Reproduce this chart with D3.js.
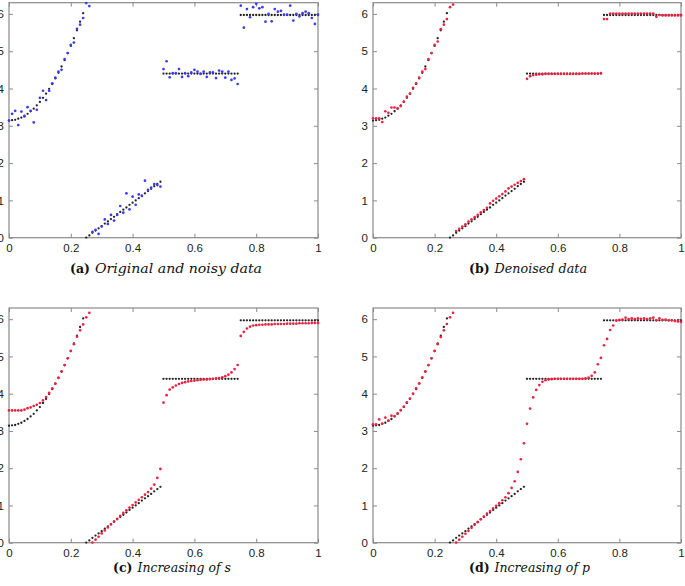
<!DOCTYPE html>
<html><head><meta charset="utf-8">
<script src="https://cdn.jsdelivr.net/npm/d3@7"></script>
<style>body{margin:0;background:#fff}svg{display:block}</style>
</head><body>
<svg id="c" width="685" height="586"></svg>
<script>
// sample positions
const xGrid = [0,0.01,0.02,0.03,0.04,0.05,0.06,0.07,0.08,0.09,0.1,0.11,0.12,0.13,0.14,0.15,0.16,0.17,0.18,0.19,0.2,0.21,0.22,0.23,0.24,0.25,0.26,0.27,0.28,0.29,0.3,0.31,0.32,0.33,0.34,0.35,0.36,0.37,0.38,0.39,0.4,0.41,0.42,0.43,0.44,0.45,0.46,0.47,0.48,0.49,0.5,0.51,0.52,0.53,0.54,0.55,0.56,0.57,0.58,0.59,0.6,0.61,0.62,0.63,0.64,0.65,0.66,0.67,0.68,0.69,0.7,0.71,0.72,0.73,0.74,0.75,0.76,0.77,0.78,0.79,0.8,0.81,0.82,0.83,0.84,0.85,0.86,0.87,0.88,0.89,0.9,0.91,0.92,0.93,0.94,0.95,0.96,0.97,0.98,0.99,1];
// original (black) data
const original = [3.14,3.15,3.16,3.19,3.22,3.27,3.32,3.39,3.46,3.55,3.64,3.75,3.86,3.99,4.12,4.27,4.42,4.59,4.76,4.95,5.14,5.35,5.56,5.79,6.02,
0,0.06,0.13,0.19,0.25,0.31,0.38,0.44,0.50,0.56,0.63,0.69,0.75,0.81,0.88,0.94,1.00,1.06,1.13,1.19,1.25,1.31,1.38,1.44,1.50,
4.40,4.40,4.40,4.40,4.40,4.40,4.40,4.40,4.40,4.40,4.40,4.40,4.40,4.40,4.40,4.40,4.40,4.40,4.40,4.40,4.40,4.40,4.40,4.40,4.40,
5.97,5.97,5.97,5.97,5.97,5.97,5.97,5.97,5.97,5.97,5.97,5.97,5.97,5.97,5.97,5.97,5.97,5.97,5.97,5.97,5.97,5.97,5.97,5.97,5.97,5.97];
// noisy data (blue)
const noisy = [3.14,3.32,3.40,3.02,3.38,3.25,3.50,3.40,3.09,3.43,3.75,3.94,3.69,3.94,4.14,4.29,4.45,4.50,4.79,4.95,5.17,5.23,5.60,5.71,5.89,
6.29,6.21,0.16,0.21,0.10,0.30,0.49,0.37,0.61,0.46,0.61,0.85,0.67,1.19,0.76,1.10,0.88,1.16,1.12,1.53,1.28,1.34,1.44,1.41,1.37,
4.52,4.73,4.30,4.41,4.41,4.52,4.31,4.41,4.33,4.43,4.50,4.45,4.39,4.45,4.31,4.43,4.43,4.28,4.48,4.45,4.29,4.45,4.23,4.27,4.12,
6.22,5.63,6.13,5.91,6.18,6.27,6.15,6.18,5.79,6.00,5.80,6.13,6.06,6.08,5.98,5.98,6.22,5.82,6.00,5.93,6.02,6.06,6.02,5.89,5.73,5.98];
// denoised (red, panel b)
const denoised = [3.20,3.20,3.20,3.10,3.39,3.35,3.49,3.49,3.47,3.53,3.65,3.78,3.86,4.02,4.14,4.29,4.45,4.52,4.79,4.95,5.17,5.26,5.59,5.71,5.86,
6.18,6.25,0.18,0.24,0.30,0.36,0.43,0.49,0.55,0.61,0.68,0.74,0.80,0.92,0.99,1.05,1.11,1.17,1.24,1.32,1.37,1.42,1.47,1.52,1.57,
4.26,4.33,4.36,4.37,4.38,4.38,4.39,4.39,4.39,4.39,4.39,4.39,4.39,4.39,4.39,4.39,4.39,4.39,4.40,4.40,4.40,4.40,4.40,4.40,4.41,
5.86,5.86,6.01,6.01,6.01,6.01,6.01,6.01,6.01,6.01,6.01,6.01,6.01,6.01,6.01,6.01,6.01,5.92,5.97,5.96,5.96,5.96,5.96,5.96,5.96,5.96];
// increasing s (red, panel c)
const increaseS = [3.55,3.55,3.55,3.55,3.55,3.57,3.61,3.63,3.67,3.70,3.75,3.82,3.91,4.02,4.14,4.27,4.43,4.60,4.77,4.95,5.15,5.33,5.53,5.70,5.86,
6.05,6.17,0.00,0.08,0.16,0.25,0.33,0.41,0.49,0.57,0.64,0.72,0.80,0.87,0.94,1.01,1.08,1.15,1.22,1.29,1.36,1.45,1.56,1.74,1.98,
3.76,3.96,4.11,4.17,4.22,4.26,4.29,4.31,4.33,4.34,4.35,4.36,4.37,4.38,4.38,4.39,4.40,4.41,4.42,4.44,4.47,4.51,4.57,4.66,4.77,
5.55,5.66,5.75,5.80,5.83,5.84,5.85,5.85,5.86,5.86,5.86,5.87,5.87,5.87,5.87,5.88,5.88,5.88,5.88,5.89,5.89,5.89,5.89,5.90,5.90,5.90];
// increasing p (red, panel d)
const increaseP = [3.18,3.18,3.31,3.20,3.36,3.28,3.41,3.40,3.47,3.56,3.65,3.77,3.87,4.00,4.14,4.28,4.44,4.60,4.77,4.95,5.15,5.33,5.52,5.70,5.87,
6.05,6.17,0.00,0.08,0.16,0.24,0.32,0.40,0.48,0.55,0.63,0.70,0.78,0.85,0.92,0.99,1.06,1.14,1.22,1.33,1.47,1.65,1.90,2.24,2.67,
3.19,3.60,3.90,4.10,4.23,4.32,4.36,4.38,4.39,4.40,4.40,4.40,4.40,4.40,4.40,4.40,4.40,4.40,4.40,4.41,4.43,4.48,4.57,4.79,4.96,
5.30,5.47,5.71,5.83,5.96,5.98,5.99,6.04,6.00,6.02,6.00,6.02,6.01,6.02,6.00,6.02,6.04,5.97,6.02,5.98,5.99,5.97,5.97,5.95,5.94,5.93];

const xTicks = [0,0.2,0.4,0.6,0.8,1];
const xTickLabels = ["0","0.2","0.4","0.6","0.8","1"];
const yTicks = [0,1,2,3,4,5,6];
const captionTags = ["(a)","(b)","(c)","(d)"];
const captionTexts = ["Original and noisy data","Denoised data","Increasing of s","Increasing of p"];

const panels = [
  {left:9, right:318, top:2.7, bottom:237.7, series:noisy, color:"#3b3bf5", capX:70, capY:273, capW:192},
  {left:373, right:681, top:2.7, bottom:237.7, series:denoised, color:"#ec2340", capX:469, capY:273, capW:118},
  {left:9, right:318, top:308, bottom:542.7, series:increaseS, color:"#ec2340", capX:113, capY:572, capW:118},
  {left:373, right:681, top:308, bottom:542.7, series:increaseP, color:"#ec2340", capX:469, capY:572, capW:121}
];

const svg = d3.select("#c");
const frameColor = "#8a8a8a";

panels.forEach((p, i) => {
  const x = d3.scaleLinear().domain([0,1]).range([p.left, p.right]);
  const y = d3.scaleLinear().domain([0,6.3]).range([p.bottom, p.top]);
  const g = svg.append("g");
  const fmt = (d,k)=>xTickLabels[k];
  const tickStyle = sel => {
    sel.select(".domain").remove();
    sel.selectAll(".tick line").attr("stroke", frameColor).attr("stroke-width",1);
    sel.selectAll(".tick text").attr("fill","#222").style("font-family","'Liberation Sans', Arial, sans-serif").style("font-size","11.5px");
  };
  g.append("g").attr("transform",`translate(0,${p.bottom})`)
    .call(d3.axisBottom(x).tickValues(xTicks).tickFormat(fmt).tickSizeInner(-4).tickSizeOuter(0).tickPadding(6))
    .call(tickStyle);
  g.append("g").attr("transform",`translate(0,${p.top})`)
    .call(d3.axisTop(x).tickValues(xTicks).tickFormat("").tickSizeInner(-4).tickSizeOuter(0))
    .call(tickStyle);
  g.append("g").attr("transform",`translate(${p.left},0)`)
    .call(d3.axisLeft(y).tickValues(yTicks).tickFormat(d3.format("d")).tickSizeInner(-4).tickSizeOuter(0).tickPadding(5))
    .call(tickStyle);
  g.append("g").attr("transform",`translate(${p.right},0)`)
    .call(d3.axisRight(y).tickValues(yTicks).tickFormat("").tickSizeInner(-4).tickSizeOuter(0))
    .call(tickStyle);
  g.append("rect").attr("x",p.left).attr("y",p.top).attr("width",p.right-p.left).attr("height",p.bottom-p.top)
    .attr("fill","none").attr("stroke",frameColor).attr("stroke-width",1.2);

  const clipId = "clip"+i;
  svg.append("clipPath").attr("id",clipId).append("rect")
    .attr("x",p.left-2).attr("y",p.top-2).attr("width",p.right-p.left+4).attr("height",p.bottom-p.top+3);
  const pts = g.append("g").attr("clip-path",`url(#${clipId})`);
  pts.selectAll("circle.orig").data(original).join("circle").attr("class","orig")
    .attr("cx",(d,k)=>x(xGrid[k])).attr("cy",d=>y(d)).attr("r",1.15).attr("fill","#222");
  pts.selectAll("circle.ser").data(p.series).join("circle").attr("class","ser")
    .attr("cx",(d,k)=>x(xGrid[k])).attr("cy",d=>y(d)).attr("r",1.35).attr("fill",p.color);

  const t = svg.append("text").attr("x",p.capX).attr("y",p.capY)
    .style("font-family","'DejaVu Serif','Liberation Serif',serif").style("font-size","12.5px").attr("fill","#111");
  t.append("tspan").attr("font-weight","bold").text(captionTags[i]);
  const it = t.append("tspan").attr("dx",5).attr("font-style","italic").text(captionTexts[i]);
  const tagW = t.node().getComputedTextLength() - it.node().getComputedTextLength();
  it.attr("textLength", p.capW - tagW - 5).attr("lengthAdjust","spacingAndGlyphs");
});
</script>
</body></html>
